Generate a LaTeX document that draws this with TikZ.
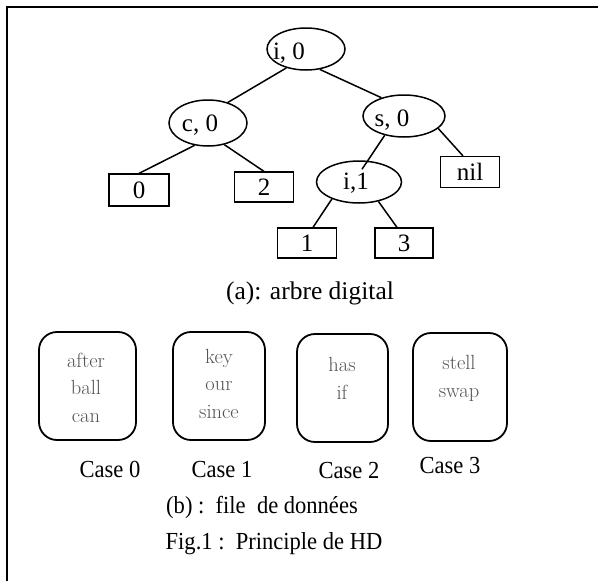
\documentclass[tikz,border=0pt]{standalone}
\usepackage{fontspec}
\newfontfamily\tnr{Liberation Serif}
\newfontfamily\tnrn{Liberation Serif}[FakeStretch=0.92]
\usetikzlibrary{shapes.geometric}

\begin{document}
\begin{tikzpicture}[x=1pt,y=-1pt,
  treeell/.style={draw, ellipse, line width=1.5pt, inner sep=0pt},
  treelbl/.style={font=\tnr\fontsize{25}{30}\selectfont, inner sep=0pt},
  leafbox/.style={draw, rectangle, line width=1.2pt, minimum width=59pt,
    minimum height=31pt, inner sep=0pt, font=\tnr\fontsize{25}{30}\selectfont},
  edge/.style={line width=1.5pt},
  bucket/.style={draw, rectangle, rounded corners=18pt, line width=1.8pt,
    minimum height=108pt, inner sep=0pt},
  words/.style={align=center, text=black!68, anchor=base, inner sep=0pt,
    font=\fontsize{20.5}{27.5}\selectfont},
  caption/.style={anchor=base, inner sep=0pt, font=\tnrn\fontsize{24.5}{29}\selectfont},
]
\useasboundingbox (0,0) rectangle (598,581);

% frame (top and left sides)
\draw[line width=2pt] (598,6.5) -- (6.8,6.5) -- (6.8,581);

% digital tree
\node[treeell, minimum width=78pt, minimum height=42pt,
  label={[treelbl, shift={(-17,4)}]center:{i, 0}}] (root) at (306,49) {};
\node[treeell, minimum width=78pt, minimum height=46pt,
  label={[treelbl, shift={(-8,2)}]center:{c, 0}}] (c) at (208,123) {};
\node[treeell, minimum width=82pt, minimum height=42pt,
  label={[treelbl, shift={(-12,4)}]center:{s, 0}}] (s) at (404,116) {};
\node[treeell, minimum width=85pt, minimum height=42pt,
  label={[treelbl, shift={(-3,1)}]center:{i,1}}] (i1) at (359,182) {};

\node[leafbox, minimum width=60pt, minimum height=32pt] (b0) at (139,190) {0};
\node[leafbox, minimum height=30pt] (b2) at (264,187) {2};
\node[leafbox] (nil) at (470,172) {nil};
\node[leafbox, minimum height=30pt] (b1) at (307,243) {1};
\node[leafbox, minimum width=58pt, minimum height=30pt] (b3) at (404,243) {3};

\draw[edge] (root.224) -- (c.46);
\draw[edge] (root.304) -- (s.141);
\draw[edge] (c.239) -- (b0.north);
\draw[edge] (c.307) -- (b2.north);
\draw[edge] (s.225) -- ([shift={(3,9)}]i1.north);
\draw[edge] (s.340) -- ([shift={(-7,0)}]nil.north);
\draw[edge] (i1.212) -- ([shift={(6,0)}]b1.north);
\draw[edge] (i1.315) -- ([shift={(-7,0)}]b3.north);

\node[caption, font=\tnr\fontsize{25.5}{30}\selectfont] (capa) at (310,299) {(a): arbre digital};

% data buckets
\node[bucket, minimum width=97pt] (q0) at (87.5,386) {};
\node[bucket, minimum width=92pt] (q1) at (219,386) {};
\node[bucket, minimum width=91pt] (q2) at (342.5,388) {};
\node[bucket, minimum width=94pt] (q3) at (460,387) {};

% bucket contents (anchored on the last line's baseline)
\node[words] (w0) at (86,422) {after\\ball\\can};
\node[words] (w1) at (219,418) {key\\our\\since};
\node[words] (w2) at (342,399) {has\\if};
\node[words] (w3) at (459,397) {stell\\swap};

\node[caption] (k0) at (110,477) {Case 0};
\node[caption] (k1) at (222,477) {Case 1};
\node[caption] (k2) at (349,478) {Case 2};
\node[caption] (k3) at (450,473) {Case 3};

\node[caption] (capb) at (262,513) {(b) :~~file~~de données};
\node[caption] (fig) at (274,549) {Fig.1 :~~Principle de HD};
\end{tikzpicture}
\end{document}
